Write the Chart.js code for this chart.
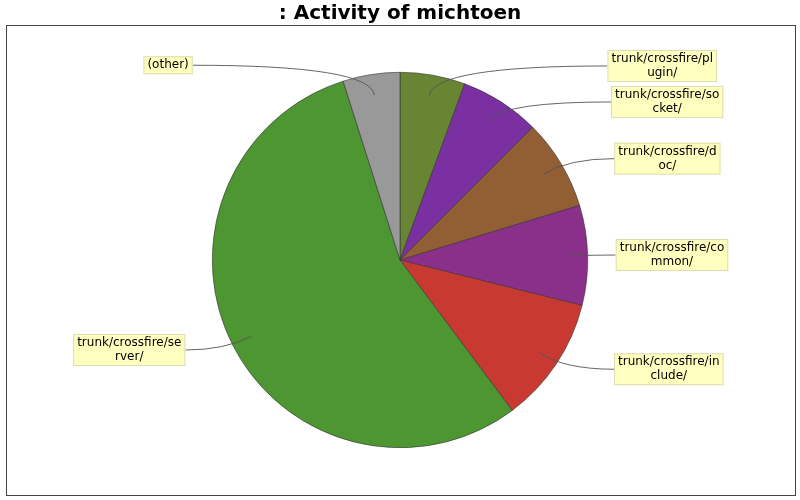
<!DOCTYPE html>
<html>
<head>
<meta charset="utf-8">
<script src="https://cdn.jsdelivr.net/npm/chart.js@4/dist/chart.umd.min.js"></script>
<style>
  html, body { margin: 0; padding: 0; background: #fff; }
  #wrap { width: 800px; height: 500px; }
</style>
</head>
<body>
<div id="wrap"><canvas id="myChart" width="800" height="500"></canvas></div>
<script>
// slices, clockwise from 12 o'clock
var categories = ['trunk/crossfire/plugin/', 'trunk/crossfire/socket/', 'trunk/crossfire/doc/',
                  'trunk/crossfire/common/', 'trunk/crossfire/include/', 'trunk/crossfire/server/', '(other)'];
var values = [5.6, 6.9, 7.8, 8.6, 10.9, 55.3, 4.9];
var colors = ['#678533', '#7a30a0', '#915f33', '#8a2f8a', '#c83a31', '#4e9632', '#999999'];

var labelFont = 12;

// yellow label boxes with curved leader lines
var pieLabels = {
    id: 'pieLabels',
    beforeDraw: function (chart) {
        var c = chart.ctx;
        c.save();
        c.strokeStyle = '#444';
        c.lineWidth = 1;
        c.strokeRect(6.5, 25.5, 789, 470);
        c.restore();
    },
    afterDatasetsDraw: function (chart) {
        var c = chart.ctx;
        var meta = chart.getDatasetMeta(0);
        c.save();
        c.font = labelFont + 'px "DejaVu Sans"';
        var maxW = 105.1 * labelFont / 12;
        var lineH = 14;
        var items = [];
        meta.data.forEach(function (arc, i) {
            var p = arc.getProps(['x', 'y', 'startAngle', 'endAngle', 'outerRadius']);
            var R = p.outerRadius;
            var mid = (p.startAngle + p.endAngle) / 2;
            var cs = Math.cos(mid), sn = Math.sin(mid);
            var it = {
                ax: p.x + cs * R * 0.89, ay: p.y + sn * R * 0.89,
                kx: p.x + cs * R * 1.05, ky: p.y + sn * R * 1.05,
                right: cs >= 0
            };
            it.ex = it.right ? p.x + R + 18 + 10 * Math.abs(cs) : p.x - R - 18 - 10 * Math.abs(cs);
            // wrap text by width
            var txt = categories[i], lines = [], cur = '';
            for (var k = 0; k < txt.length; k++) {
                if (cur && c.measureText(cur + txt[k]).width > maxW) { lines.push(cur); cur = ''; }
                cur += txt[k];
            }
            lines.push(cur);
            var w = 0;
            lines.forEach(function (l) { w = Math.max(w, c.measureText(l).width); });
            it.lines = lines;
            it.bw = w + 8;
            it.bh = lines.length * lineH + 4;
            it.ly = it.ky;
            items.push(it);
        });

        // push overlapping labels apart, per side
        [true, false].forEach(function (side) {
            var s = items.filter(function (it) { return it.right === side; })
                         .sort(function (a, b) { return a.ky - b.ky; });
            for (var j = 1; j < s.length; j++) {
                var minY = s[j - 1].ly + s[j - 1].bh / 2 + 4 + s[j].bh / 2;
                if (s[j].ly < minY) s[j].ly = minY;
            }
        });

        items.forEach(function (it) {
            var bx = it.right ? it.ex : it.ex - it.bw;
            var by = it.ly - it.bh / 2;

            c.strokeStyle = '#555';
            c.lineWidth = 0.9;
            c.beginPath();
            c.moveTo(it.ax, it.ay);
            c.quadraticCurveTo(it.kx, it.ly, it.ex, it.ly);
            c.stroke();

            c.fillStyle = '#ffffc0';
            c.fillRect(bx, by, it.bw, it.bh);
            c.strokeStyle = '#dcdcb0';
            c.lineWidth = 1;
            c.strokeRect(bx + 0.5, by + 0.5, it.bw - 1, it.bh - 1);
            c.fillStyle = '#000';
            c.textAlign = 'center';
            c.textBaseline = 'middle';
            it.lines.forEach(function (l, j) {
                c.fillText(l, bx + it.bw / 2, by + 2 + lineH * (j + 0.5));
            });
        });
        c.restore();
    }
};

var dates = {
    type: 'pie',
    data: {
        labels: categories,
        datasets: [{
            data: values,
            backgroundColor: colors,
            borderColor: '#333',
            borderWidth: 0.6
        }]
    },
    options: {
        responsive: false,
        animation: false,
        layout: { padding: { top: 1, bottom: 52 } },
        plugins: {
            legend: { display: false },
            tooltip: { enabled: false },
            title: {
                display: true,
                text: ': Activity of michtoen',
                color: '#000',
                font: { family: '"DejaVu Sans"', size: 20, weight: 'bold', lineHeight: 1.2 },
                padding: { top: 1, bottom: 46 }
            }
        }
    },
    plugins: [pieLabels]
};

const ctx = document.getElementById('myChart').getContext('2d');
const myChart = new Chart(ctx, dates);
</script>
</body>
</html>
